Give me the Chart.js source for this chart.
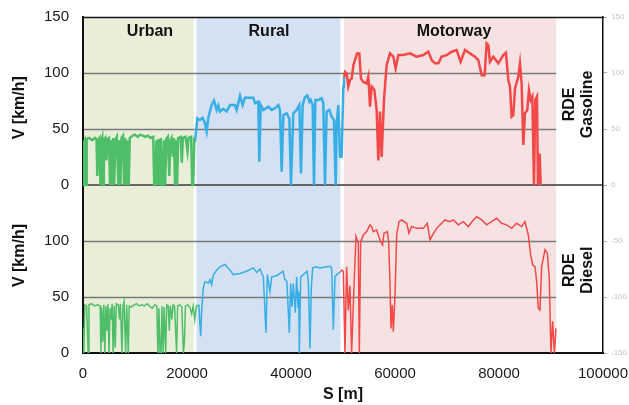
<!DOCTYPE html>
<html>
<head>
<meta charset="utf-8">
<script src="https://cdn.jsdelivr.net/npm/chart.js@4.4.1/dist/chart.umd.min.js"></script>
<style>
  html,body{margin:0;padding:0;background:#fff;}
  canvas{display:block;}
</style>
</head>
<body>
<canvas id="c" width="629" height="405"></canvas>
<script>
// ---------- DATA ----------
const xTicks = [0, 20000, 40000, 60000, 80000, 100000];
const sectionNames = ["Urban", "Rural", "Motorway"];
const sectionStart = [0, 21800, 50200];
const sectionEnd   = [21300, 49500, 91000];
const panelNames = ["RDE\nGasoline", "RDE\nDiesel"];

// Gasoline (upper panel)
const gasUrbanS = [0,150,350,450,600,700,1200,1800,2300,2600,2750,2900,3200,3350,3500,3700,3850,4000,4300,4500,4700,5000,5200,5400,5600,5800,6000,6200,6500,6800,7000,7200,7400,7700,7900,8100,8400,8600,8800,9000,9500,10000,10500,11000,11500,12000,12500,13000,13500,13700,13900,14100,14300,14500,14800,15000,15200,15400,15600,15800,16000,16300,16600,16800,17000,17300,17500,17700,17900,18100,18300,18800,19000,19200,19700,20100,20300,20800,21000,21200,21400,21540];
const gasUrbanV = [0,38,40,0,0,41,42,40,42,41,8,40,42,0,38,42,0,40,42,22,41,42,0,40,0,42,0,40,43,0,40,0,42,44,0,42,0,40,0,42,44,45,43,45,44,43,44,42,43,0,0,40,0,41,0,42,0,0,40,0,41,43,8,40,42,25,42,0,40,0,42,43,20,42,43,30,42,43,0,0,40,39];

const gasRuralS = [21540,21986,22500,23000,23400,23781,24100,24742,25190,25704,26024,26345,26986,27627,28268,29230,29550,30191,30704,31153,32755,33076,33717,33909,34165,34678,35640,36281,36922,37563,37883,38204,38524,39165,39678,39998,40447,41088,41601,41921,42242,42691,43139,43524,43780,44165,44421,44678,45255,45896,46216,46537,46857,47370,47819,48268,48589,48780,49101,49421,49742,50062,50190];
const gasRuralV = [38.7,59.5,58,60,56,47.6,60,71.4,75.4,67,71,65.5,68,65.5,71.4,71.4,67,79.5,71.4,78,78,73,74.4,20.8,71.4,67,70,67,68.5,71.4,67,11.9,62.5,64,59.5,0,64,67,71.4,10.4,71.4,78.6,80,74.4,76,71.4,0,76,76,77.4,73,0,65.5,67,61,58,0,55,71.4,25.3,25.3,87.8,95.8];

const gasMotorwayS = [50190,50400,50700,51020,51340,51660,52000,52700,53140,53460,53910,54550,54870,55190,55510,56020,56470,56790,57110,57430,57880,58390,59030,59680,60120,60640,61600,62880,64160,65440,66410,67050,67690,68330,68970,69930,70890,71850,72620,73460,74420,75380,76020,76660,77240,77620,77940,78260,78910,79870,80830,81340,81790,82110,82430,82750,83070,83710,84030,84350,84670,84990,85440,85760,86090,86410,86730,86980,87300,87490,87810,88010];
const gasMotorwayV = [95.8,101,99.7,88,93.7,95,107,117.5,117.5,95,92,90.7,96.7,70,88,85,67,22,65.5,25,76,107,117.5,114.6,104,116,116,117.5,114.6,116,119,111.6,108.6,108.6,114.6,116,119,120.5,110,120.5,117.5,114.6,111.6,98,98,126.5,125,110,114.6,108.6,116,118,93.7,87.8,61,62.5,86,96.7,108.6,90.7,35.7,64,67,84.8,76,79,0,76,79,0,28,0];

// Diesel (lower panel)
const dieUrbanS = [0,150,350,700,1000,1150,1600,2200,2800,3300,3450,3600,3800,4000,4200,4400,4600,4800,5000,5200,5400,5600,5800,6000,6200,6400,6800,7000,7200,7500,7700,7900,8200,8400,8700,8900,9300,9800,10300,10800,11300,11800,12300,12800,13300,13800,14200,14400,14600,14800,15000,15200,15400,15600,15900,16100,16400,16600,16800,17100,17300,17600,18000,18200,18600,19000,19300,19500,19700,20200,20600,20900,21200,21500,21800,22300];
const dieUrbanV = [22,0,43,42,0,43,44,42,43,42,0,40,10,43,0,42,20,44,0,40,30,44,0,42,5,44,43,30,44,0,42,46,0,43,0,42,41,43,44,42,43,42,44,42,40,43,42,0,40,0,0,42,0,41,0,43,42,20,42,30,43,42,0,42,43,41,0,10,42,43,40,35,42,30,42,43];

const dieRuralS = [22300,22450,22630,22820,23140,23460,24100,24420,24740,25060,25700,26350,27310,28270,28910,30190,31470,32760,33400,34040,34680,35190,35450,35960,36280,37240,38470,38800,39200,39680,39930,40190,40440,40830,41090,41350,41500,41600,41860,42370,43100,43350,43650,43900,44170,44930,45570,46860,47500,47820,48140,48460,48780,49420];
const dieRuralV = [43,28,15,38,58,63.7,62.5,65.5,61,69.6,74,77,79,74,70,71,73,76,72,75,68,18,70,55,68,69,73,66,64,18,62,41,62,36,68,41,55,0,68,70,73,62,4,58,76,77,76,77,77.4,76,21,68,70,72];

const dieMotorwayS = [49420,49800,50060,50380,50700,51020,51340,51660,52100,52500,52940,53140,53390,53910,54550,55190,55510,55830,56470,56790,57240,57620,57880,58520,58780,59030,59230,59480,59680,60000,60320,60770,61280,62240,62690,63200,64160,65440,66210,66730,67240,68010,68970,69610,70570,71210,72170,73140,74100,75060,75700,76660,77620,78580,79550,80510,81470,82430,83390,84350,84990,85640,86090,86470,86920,87240,87560,87880,88200,88840,89290,89670,89990,90320,90640,90960];
const dieMotorwayV = [72,74,73,0,77,38,60,0,58,104,98,0,99,105.4,108.4,114.4,112.9,108.4,109.9,105.4,99.4,96.4,106.9,108.4,99.4,63.7,22,42.9,19,51.8,105.4,117.3,118.8,115.8,106.9,112.9,111.3,111.3,115.8,100.9,105.4,111.3,115.8,118.8,117.3,118.8,114.4,117.3,112.9,118.8,121.7,118.8,114.4,117.3,120.3,115.8,114.4,111.3,115.8,112.9,117.3,105.4,87.5,78.6,77.1,63.7,39.9,38.4,77.1,92,89,66.7,0,28.3,0,22];

// ---------- helpers ----------
const PANEL = 150; // lower panel is drawn one panel-height below the upper one
function pts(S, V, shift) { return S.map((s, i) => ({ x: s, y: V[i] - shift })); }

const GREEN = 'rgb(78,190,104)';
const BLUE  = 'rgb(56,174,230)';
const RED   = 'rgb(243,72,72)';
const bandColors = ['rgb(232,238,216)', 'rgb(211,225,243)', 'rgb(246,226,226)'];
const FONT = '"Liberation Sans", Arial, sans-serif';

function ds(data, color, w) {
  return { data, borderColor: color, borderWidth: w, pointRadius: 0, tension: 0, fill: false };
}
function noPad(s) { s.paddingTop = 0; s.paddingBottom = 0; s.paddingLeft = 0; s.paddingRight = 0; }

const decor = {
  id: 'decor',
  beforeDraw(chart) {
    const { ctx, chartArea: a, scales: { x, y } } = chart;
    ctx.save();
    for (let i = 0; i < sectionNames.length; i++) {
      const x0 = x.getPixelForValue(sectionStart[i]);
      const x1 = x.getPixelForValue(sectionEnd[i]);
      ctx.fillStyle = bandColors[i];
      ctx.fillRect(x0, a.top, x1 - x0, a.bottom - a.top);
    }
    const gEnd = x.getPixelForValue(sectionEnd[2]);
    ctx.strokeStyle = '#7a7a7a';
    ctx.lineWidth = 1.5;
    [100, 50, -50, -100].forEach(v => {
      const py = Math.round(y.getPixelForValue(v)) + 0.5;
      ctx.beginPath(); ctx.moveTo(a.left, py); ctx.lineTo(gEnd, py); ctx.stroke();
    });
    ctx.strokeStyle = '#666';
    ctx.lineWidth = 2;
    const p0 = Math.round(y.getPixelForValue(0));
    ctx.beginPath(); ctx.moveTo(a.left, p0); ctx.lineTo(a.right, p0); ctx.stroke();
    ctx.restore();
  },
  afterDraw(chart) {
    const { ctx, chartArea: a, scales: { x, y } } = chart;
    ctx.save();
    // top border
    ctx.strokeStyle = '#111';
    ctx.lineWidth = 1.5;
    ctx.beginPath(); ctx.moveTo(a.left - 1, a.top + 0.5); ctx.lineTo(a.right + 0.75, a.top + 0.5); ctx.stroke();

    ctx.fillStyle = '#111';
    ctx.font = 'bold 16px ' + FONT;
    ctx.textAlign = 'center';
    ctx.textBaseline = 'middle';
    // section labels
    const labelY = y.getPixelForValue(137);
    const labelX = [12880, 35770, 71340];
    sectionNames.forEach((n, i) => ctx.fillText(n, x.getPixelForValue(labelX[i]), labelY));

    // S [m]
    ctx.fillText('S [m]', (a.left + a.right) / 2, 395);

    // V [km/h] (rotated)
    const vCenters = [y.getPixelForValue(69), y.getPixelForValue(-63)];
    vCenters.forEach(cy => {
      ctx.save(); ctx.translate(19.5, cy); ctx.rotate(-Math.PI / 2);
      ctx.fillText('V [km/h]', 0, 0); ctx.restore();
    });

    // RDE panel names
    const pCenters = [y.getPixelForValue(72), y.getPixelForValue(-76)];
    panelNames.forEach((n, i) => {
      const lines = n.split('\n');
      ctx.save(); ctx.translate(579, pCenters[i]); ctx.rotate(-Math.PI / 2);
      ctx.fillText(lines[0], 0, -9);
      ctx.fillText(lines[1], 0, 9);
      ctx.restore();
    });
    ctx.restore();
  }
};

new Chart(document.getElementById('c'), {
  type: 'line',
  data: {
    datasets: [
      ds(pts(gasUrbanS, gasUrbanV, 0), GREEN, 2.5),
      ds(pts(gasRuralS, gasRuralV, 0), BLUE, 2.5),
      ds(pts(gasMotorwayS, gasMotorwayV, 0), RED, 2.5),
      ds(pts(dieUrbanS, dieUrbanV, PANEL), GREEN, 1.5),
      ds(pts(dieRuralS, dieRuralV, PANEL), BLUE, 1.5),
      ds(pts(dieMotorwayS, dieMotorwayV, PANEL), RED, 1.5)
    ]
  },
  options: {
    responsive: false,
    animation: false,
    layout: { padding: { top: 17, left: 0, right: 0, bottom: 0 } },
    plugins: { legend: { display: false }, tooltip: { enabled: false } },
    scales: {
      x: {
        type: 'linear', min: 0, max: 100000,
        afterBuildTicks: s => { s.ticks = xTicks.map(v => ({ value: v })); },
        ticks: { font: { size: 15, family: FONT }, color: '#1a1a1a', padding: 12, maxRotation: 0, callback: v => String(v) },
        grid: { display: false, drawTicks: false },
        border: { display: true, color: '#111', width: 2 },
        afterFit: s => { s.height = 52; noPad(s); }
      },
      y: {
        position: 'left', min: -150, max: 150,
        ticks: { stepSize: 50, font: { size: 15, family: FONT }, color: '#1a1a1a', padding: 14,
                 callback: v => String(v >= 0 ? v : v + PANEL) },
        grid: { display: false, drawTicks: false },
        border: { display: true, color: '#111', width: 2 },
        afterFit: s => { s.width = 83; noPad(s); }
      },
      y2: {
        position: 'right', min: -150, max: 150,
        ticks: { stepSize: 50, font: { size: 8, family: FONT }, color: '#c4c4c4', padding: 4 },
        grid: { drawOnChartArea: false, drawTicks: true, tickLength: 4, color: '#aaa' },
        border: { display: true, color: '#111', width: 1.5 },
        afterFit: s => { s.width = 26; noPad(s); }
      }
    }
  },
  plugins: [decor]
});
</script>
</body>
</html>
